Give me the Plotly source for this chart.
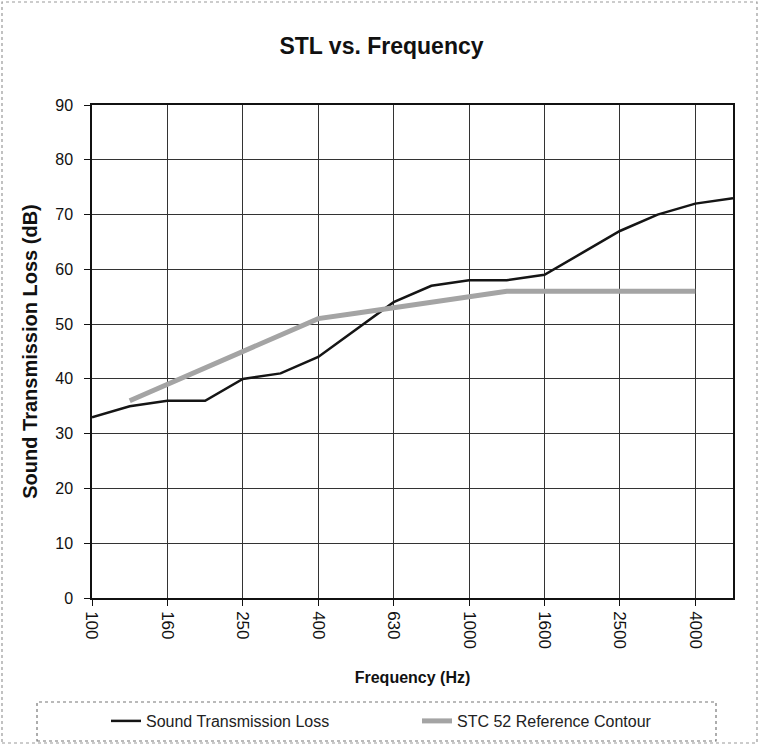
import plotly.graph_objects as go

freqs = ["100", "125", "160", "200", "250", "315", "400", "500", "630", "800",
         "1000", "1250", "1600", "2000", "2500", "3150", "4000", "5000"]
stl = [33, 35, 36, 36, 40, 41, 44, 49, 54, 57, 58, 58, 59, 63, 67, 70, 72, 73]
stc_freqs = ["125", "160", "200", "250", "315", "400", "500", "630", "800",
             "1000", "1250", "1600", "2000", "2500", "3150", "4000"]
stc52 = [36, 39, 42, 45, 48, 51, 52, 53, 54, 55, 56, 56, 56, 56, 56, 56]
tick_labels = ["100", "160", "250", "400", "630", "1000", "1600", "2500", "4000"]
y_ticks = [0, 10, 20, 30, 40, 50, 60, 70, 80, 90]

FONT = "Liberation Sans, Arial, sans-serif"

fig = go.Figure()
fig.add_trace(go.Scatter(x=freqs, y=stl, mode="lines", name="Sound Transmission Loss",
                         line=dict(color="#151515", width=2.5)))
fig.add_trace(go.Scatter(x=stc_freqs, y=stc52, mode="lines", name="STC 52 Reference Contour",
                         line=dict(color="#a4a4a4", width=5)))

W, H = 763, 745
L, R, T, B = 92, 30, 105, 147
pw, ph = W - L - R, H - T - B

def px(x):
    return (x - L) / pw

def py(y):
    return (H - B - y) / ph

fig.update_layout(
    width=W, height=H,
    margin=dict(l=L, r=R, t=T, b=B, autoexpand=False),
    paper_bgcolor="white", plot_bgcolor="white",
    font=dict(family=FONT, color="#111"),
    title=dict(text="<b>STL vs. Frequency</b>", x=0.5, xanchor="center",
               y=1 - 46 / H, yanchor="middle", font=dict(size=23, color="#111")),
    showlegend=True,
    legend=dict(orientation="h", x=px(106), xanchor="left", y=py(721), yanchor="middle",
                font=dict(size=16, color="#222"), bgcolor="rgba(0,0,0,0)",
                entrywidth=266, entrywidthmode="pixels"),
    xaxis=dict(type="category", categoryorder="array", categoryarray=freqs,
               range=[0, 17], tickmode="array", tickvals=tick_labels, ticktext=tick_labels,
               tickangle=90, tickfont=dict(size=17, color="#111"),
               showgrid=True, gridcolor="#333", gridwidth=1,
               showline=True, linecolor="#111", linewidth=1.5, mirror=True,
               ticks="outside", ticklen=6, tickcolor="#111", ticklabelstandoff=2,
               title=dict(text="<b>Frequency (Hz)</b>", font=dict(size=16, color="#111"), standoff=24),
               zeroline=False),
    yaxis=dict(range=[0, 90], tickmode="array", tickvals=y_ticks,
               tickfont=dict(size=16, color="#111"),
               showgrid=True, gridcolor="#333", gridwidth=1,
               showline=True, linecolor="#111", linewidth=1.5, mirror=True,
               ticks="outside", ticklen=6, tickcolor="#111", ticklabelstandoff=8,
               title=dict(text="<b>Sound Transmission Loss (dB)</b>", font=dict(size=20, color="#111"),
                          standoff=12),
               zeroline=False),
    shapes=[
        dict(type="rect", xref="paper", yref="paper", x0=px(37), x1=px(716), y0=py(741), y1=py(702),
             line=dict(color="#777", width=1.2, dash="dot"), fillcolor="rgba(0,0,0,0)"),
        dict(type="rect", xref="paper", yref="paper", x0=px(2), x1=px(757), y0=py(743), y1=py(2),
             line=dict(color="#999", width=1.2, dash="dot"), fillcolor="rgba(0,0,0,0)"),
    ],
)

fig.write_html("out.html", config={"displayModeBar": False},
               post_script="document.body.style.margin='0';")
